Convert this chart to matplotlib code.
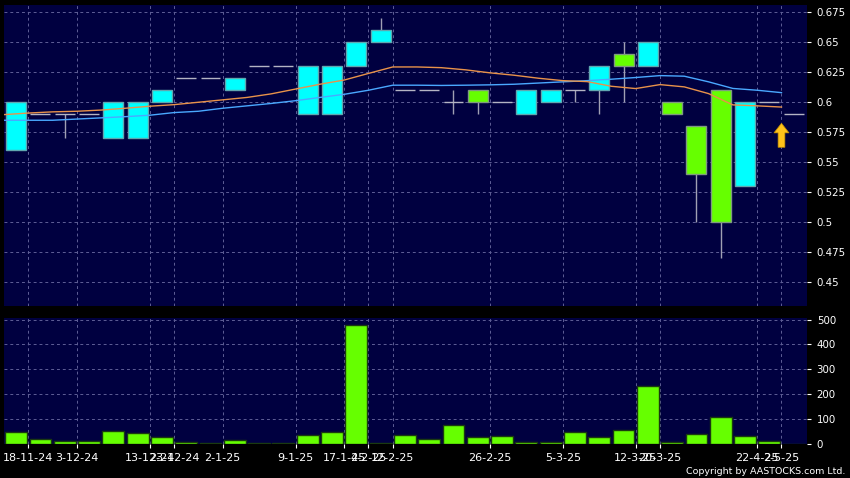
import numpy as np
import matplotlib.pyplot as plt

# OHLC (one candle per trading day shown)
opens  = [0.56, 0.59, 0.59, 0.59, 0.57, 0.57, 0.60, 0.62, 0.62, 0.61, 0.63,
          0.63, 0.59, 0.59, 0.63, 0.65, 0.61, 0.61, 0.60, 0.61, 0.60, 0.59,
          0.60, 0.61, 0.61, 0.64, 0.63, 0.60, 0.58, 0.61, 0.53, 0.60, 0.59]
closes = [0.60, 0.59, 0.59, 0.59, 0.60, 0.60, 0.61, 0.62, 0.62, 0.62, 0.63,
          0.63, 0.63, 0.63, 0.65, 0.66, 0.61, 0.61, 0.60, 0.60, 0.60, 0.61,
          0.61, 0.61, 0.63, 0.63, 0.65, 0.59, 0.54, 0.50, 0.60, 0.60, 0.59]
highs  = [0.60, 0.59, 0.59, 0.59, 0.60, 0.60, 0.61, 0.62, 0.62, 0.62, 0.63,
          0.63, 0.63, 0.63, 0.65, 0.67, 0.61, 0.61, 0.61, 0.61, 0.60, 0.61,
          0.61, 0.61, 0.63, 0.65, 0.65, 0.60, 0.58, 0.61, 0.60, 0.60, 0.59]
lows   = [0.56, 0.59, 0.57, 0.59, 0.57, 0.57, 0.60, 0.62, 0.62, 0.61, 0.63,
          0.63, 0.59, 0.59, 0.63, 0.65, 0.61, 0.61, 0.59, 0.59, 0.60, 0.59,
          0.60, 0.60, 0.59, 0.60, 0.63, 0.59, 0.50, 0.47, 0.53, 0.60, 0.59]
volumes = [47, 20, 9, 12, 52, 43, 25, 8, 1, 13, 4, 1, 34, 47, 477, 4, 34,
           20, 75, 27, 30, 5, 5, 47, 27, 54, 232, 5, 38, 106, 30, 11, 0]

# moving averages (drawn half a slot to the left of each candle)
ma_orange = [0.5897, 0.591, 0.592, 0.5925, 0.5935, 0.595, 0.5967, 0.598,
             0.600, 0.602, 0.604, 0.607, 0.611, 0.615, 0.6185, 0.624, 0.6294,
             0.6294, 0.6288, 0.627, 0.6245, 0.6225, 0.620, 0.618, 0.6172,
             0.6133, 0.6114, 0.6147, 0.6128, 0.6072, 0.5978, 0.597, 0.596]
ma_blue = [0.585, 0.585, 0.585, 0.586, 0.587, 0.588, 0.5892, 0.5914, 0.5925,
           0.595, 0.597, 0.599, 0.6013, 0.604, 0.6066, 0.610, 0.6142, 0.6142,
           0.614, 0.6142, 0.6145, 0.615, 0.616, 0.617, 0.618, 0.6192, 0.6206,
           0.6222, 0.6217, 0.617, 0.6115, 0.610, 0.608]

tick_pos = [0.5, 2.5, 5.5, 6.5, 8.5, 11.5, 13.5, 14.5, 15.5, 19.5, 22.5,
            25.5, 26.5, 30.5, 31.5]
tick_labels = ['18-11-24', '3-12-24', '13-12-24', '23-12-24', '2-1-25',
               '9-1-25', '17-1-25', '4-2-25', '12-2-25', '26-2-25', '5-3-25',
               '12-3-25', '20-3-25', '22-4-25', '2-5-25']
price_ticks = [0.45, 0.475, 0.5, 0.525, 0.55, 0.575, 0.6, 0.625, 0.65, 0.675]
vol_ticks = [0, 100, 200, 300, 400, 500]

BG = '#000040'
GRID = '#5e5e96'
CYAN = '#00ffff'
GREEN = '#66ff00'

o = np.array(opens)
c = np.array(closes)
x = np.arange(len(o))

fig = plt.figure(figsize=(8.5, 4.78), dpi=100, facecolor='black')
ax = fig.add_axes([4/850, 1-306/478, 803/850, 301/478])
axv = fig.add_axes([4/850, 1-443.5/478, 803/850, 125.2/478], sharex=ax)

for a in (ax, axv):
    a.set_facecolor(BG)
    for s in a.spines.values():
        s.set_visible(False)
    a.yaxis.tick_right()
    a.tick_params(colors='white', labelsize=7.4, length=3, pad=4)
    a.grid(True, color=GRID, linestyle=(0, (3, 3)), linewidth=0.7)
    a.set_axisbelow(True)

# price panel
ax.vlines(x, lows, highs, color='#a0a0b4', linewidth=1, zorder=2)
up = c > o
down = c < o
flat = c == o
ax.bar(x[up], (c - o)[up], bottom=o[up], width=0.82, color=CYAN,
       edgecolor='#5fa8b0', linewidth=1, zorder=3)
ax.bar(x[down], (o - c)[down], bottom=c[down], width=0.82, color=GREEN,
       edgecolor='#7f9a80', linewidth=1, zorder=3)
ax.hlines(c[flat], x[flat] - 0.41, x[flat] + 0.41, color='#b4b4c4',
          linewidth=1, zorder=3)

ma_x = x - 0.5
ax.plot(ma_x, ma_blue, color='#4aa8ff', linewidth=1, zorder=4)
ax.plot(ma_x, ma_orange, color='#e8924a', linewidth=1, zorder=4)

# latest-price arrow
ax.arrow(x[-1] - 0.5, c[-1] - 0.0275, 0, 0.012, width=0.28, head_width=0.62,
         head_length=0.008, color='#ffc21a', ec='#c08a00', lw=0.5, zorder=5)

ax.set_xlim(-0.5, len(o) - 0.45)
ax.set_ylim(0.4303, 0.681)
ax.set_yticks(price_ticks)
ax.set_yticklabels(['%g' % t for t in price_ticks])
ax.set_xticks(tick_pos)
ax.tick_params(axis='x', length=0, labelbottom=False)

# volume panel
axv.bar(x, volumes, width=0.9, color=GREEN, edgecolor='#1a3a10',
        linewidth=1, zorder=3)
axv.set_ylim(0, 505)
axv.set_yticks(vol_ticks)
axv.set_xticks(tick_pos)
axv.set_xticklabels(tick_labels)
axv.tick_params(axis='x', length=3, pad=4, labelsize=8)

fig.text(845/850, 1-471/478, 'Copyright by AASTOCKS.com Ltd.', color='white',
         fontsize=6.8, ha='right', va='center')

fig.savefig('out.png', dpi=100, facecolor='black')
